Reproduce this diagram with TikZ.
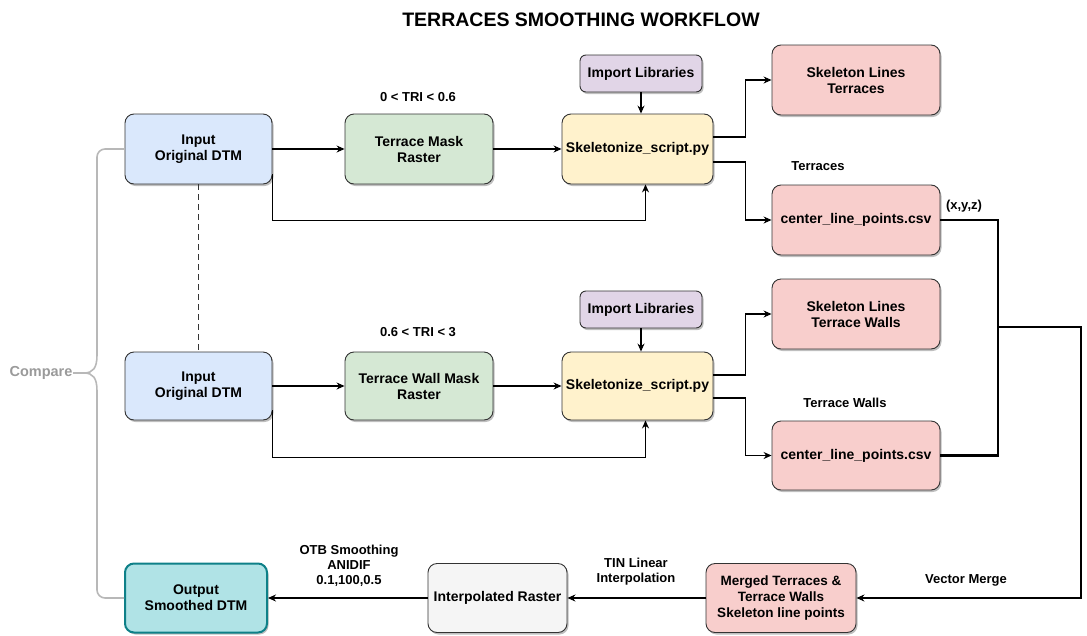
\documentclass[tikz,border=0pt]{standalone}
\usepackage{fontspec}
\setmainfont{Liberation Sans}
\usetikzlibrary{arrows.meta,shadows}
\definecolor{bluef}{HTML}{DAE8FC}
\definecolor{greenf}{HTML}{D5E8D4}
\definecolor{yellowf}{HTML}{FFF2CC}
\definecolor{purplef}{HTML}{E1D5E7}
\definecolor{pinkf}{HTML}{F8CECC}
\definecolor{grayf}{HTML}{F5F5F5}
\definecolor{tealf}{HTML}{B0E3E6}
\definecolor{teald}{HTML}{0E8088}
\definecolor{brace}{HTML}{B8B8B8}
\definecolor{cmptext}{HTML}{9A9A9A}
\begin{document}
\begin{tikzpicture}[x=1pt,y=-1pt,
  box/.style={draw=black!80, rounded corners=9pt, line width=0.9pt, align=center,
    font=\fontsize{14}{16}\selectfont\bfseries, inner sep=2pt,
    drop shadow={shadow xshift=1.5pt, shadow yshift=-2pt, opacity=0.25, fill=black}},
  lbl/.style={align=center, font=\fontsize{13}{15}\selectfont\bfseries, inner sep=0pt},
  arr/.style={line width=1.1pt, -{Stealth[length=8pt,width=7pt]}},
  thk/.style={line width=2.4pt}]
\useasboundingbox (0,0) rectangle (1087,635);

\node[font=\fontsize{19.5}{22}\selectfont\bfseries] (title) at (581,20) {TERRACES SMOOTHING WORKFLOW};

% nodes
\node[box, fill=bluef, minimum width=147pt, minimum height=70pt] (in1) at (198.5,149) {Input\\Original DTM};
\node[box, fill=bluef, minimum width=147pt, minimum height=68pt] (in2) at (198.5,386) {Input\\Original DTM};
\node[box, fill=tealf, draw=teald, line width=2pt, minimum width=142pt, minimum height=69pt] (out) at (196,598) {Output\\Smoothed DTM};

\node[box, fill=greenf, minimum width=148pt, minimum height=70pt] (m1) at (419,149) {Terrace Mask\\Raster};
\node[box, fill=greenf, minimum width=148pt, minimum height=68pt] (m2) at (419,386) {Terrace Wall Mask\\Raster};

\node[box, fill=purplef, rounded corners=6pt, minimum width=122pt, minimum height=37pt] (il1) at (641,73.5) {Import Libraries};
\node[box, fill=purplef, rounded corners=6pt, minimum width=122pt, minimum height=37pt] (il2) at (641,309.5) {Import Libraries};

\node[box, fill=yellowf, minimum width=151pt, minimum height=70pt] (sk1) at (637.5,149) {Skeletonize\_script.py};
\node[box, fill=yellowf, minimum width=151pt, minimum height=68pt] (sk2) at (637.5,386) {Skeletonize\_script.py};

\node[box, fill=pinkf, minimum width=168pt, minimum height=70pt] (sl1) at (856,80) {Skeleton Lines\\Terraces};
\node[box, fill=pinkf, minimum width=168pt, minimum height=70pt] (c1) at (856,220) {center\_line\_points.csv};
\node[box, fill=pinkf, minimum width=168pt, minimum height=70pt] (sl2) at (856,314) {Skeleton Lines\\Terrace Walls};
\node[box, fill=pinkf, minimum width=168pt, minimum height=69pt] (c2) at (856,455.5) {center\_line\_points.csv};

\node[box, fill=pinkf, minimum width=150pt, minimum height=69pt, font=\fontsize{13.5}{16}\selectfont\bfseries] (mg) at (781,598) {Merged Terraces \&\\Terrace Walls\\Skeleton line points};
\node[box, fill=grayf, minimum width=139pt, minimum height=69pt] (ir) at (497.5,598) {Interpolated Raster};

% labels
\node[lbl] (t1) at (418,97) {0 < TRI < 0.6};
\node[lbl] (t2) at (418,332) {0.6 < TRI < 3};
\node[lbl] (lt) at (818,166) {Terraces};
\node[lbl] (ltw) at (845,403) {Terrace Walls};
\node[lbl] (xyz) at (964,206) {(x,y,z)};
\node[lbl] (tin) at (636,572) {TIN Linear\\Interpolation};
\node[lbl] (otb) at (349,566) {OTB Smoothing\\ANIDIF\\0.1,100,0.5};
\node[lbl] (vm) at (966,580) {Vector Merge};
\node[lbl, text=cmptext, font=\fontsize{14.5}{16}\selectfont\bfseries] (cmp) at (41,373) {Compare};

% connectors upper row
\draw[arr] (in1.east) -- (m1.west);
\draw[arr] (m1.east) -- (sk1.west);
\draw[arr] (il1.south) -- (sk1.north -| il1.south);
\draw[arr] ([yshift=10pt]in1.south east) -- ++(0,46) -| ([xshift=8pt]sk1.south);
\draw[arr] ([yshift=12pt]sk1.east) -- ++(32,0) |- (sl1.west);
\draw[arr] ([yshift=-13pt]sk1.east) -- ++(32,0) |- (c1.west);

% connectors lower row
\draw[arr] (in2.east) -- (m2.west);
\draw[arr] (m2.east) -- (sk2.west);
\draw[arr] (il2.south) -- (sk2.north -| il2.south);
\draw[arr] ([yshift=10pt]in2.south east) -- ++(0,47) -| ([xshift=8pt]sk2.south);
\draw[arr] ([yshift=11pt]sk2.east) -- ++(32,0) |- (sl2.west);
\draw[arr] ([yshift=-12pt]sk2.east) -- ++(32,0) |- (c2.west);

% dashed link
\draw[line width=1.6pt, dash pattern=on 6pt off 4pt, black!80] (in1.south) -- (in2.north);

% merge
\coordinate (mj) at (998,327);
\coordinate (vr) at (1081,327);
\draw[thk] (c1.east) -| (mj) |- (c2.east);
\draw[arr] (mj) -- (vr) |- (mg.east);

% bottom row
\draw[arr] (mg.west) -- (ir.east);
\draw[arr] (ir.west) -- (out.west -| out.east);

% compare brace
\draw[brace, line width=1.6pt, rounded corners=8pt] (in1.west) -- (97,149) -- (97,356);
\draw[brace, line width=1.6pt] (97,355) .. controls (97,368) and (93,373) .. (84,373)
   .. controls (93,373) and (97,378) .. (97,391);
\draw[brace, line width=1.6pt, rounded corners=8pt] (97,390) -- (97,598) -- (out.west);
\draw[brace, line width=1.6pt] (cmp.east) -- (84,373);
\end{tikzpicture}
\end{document}
